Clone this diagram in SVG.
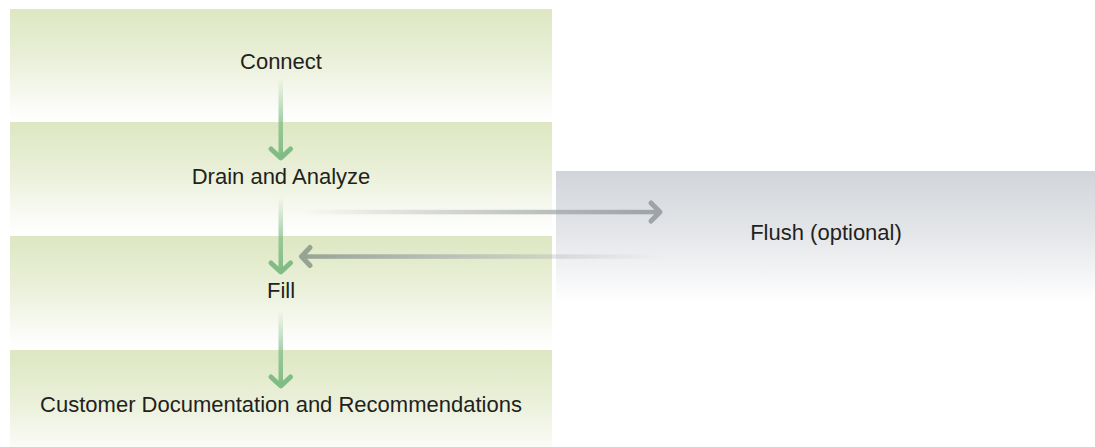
<svg xmlns="http://www.w3.org/2000/svg" width="1095" height="447" viewBox="0 0 1095 447">
  <defs>
    <linearGradient id="gGreen" x1="0" y1="0" x2="0" y2="1">
      <stop offset="0" stop-color="#dde7c2"/>
      <stop offset="0.45" stop-color="#eaf0d9"/>
      <stop offset="0.85" stop-color="#fafbf6"/>
      <stop offset="1" stop-color="#ffffff"/>
    </linearGradient>
    <linearGradient id="gGray" x1="0" y1="0" x2="0" y2="1">
      <stop offset="0" stop-color="#d1d5d9"/>
      <stop offset="0.5" stop-color="#e5e7ea"/>
      <stop offset="1" stop-color="#ffffff"/>
    </linearGradient>
    <linearGradient id="gDown" x1="0" y1="0" x2="0" y2="1">
      <stop offset="0" stop-color="#82bd86" stop-opacity="0"/>
      <stop offset="0.55" stop-color="#82bd86" stop-opacity="0.75"/>
      <stop offset="1" stop-color="#80bc84" stop-opacity="1"/>
    </linearGradient>
    <linearGradient id="gRight" gradientUnits="userSpaceOnUse" x1="300" y1="0" x2="660" y2="0">
      <stop offset="0" stop-color="#9ea3a8" stop-opacity="0"/>
      <stop offset="0.6" stop-color="#9ea3a8" stop-opacity="0.6"/>
      <stop offset="1" stop-color="#9ea3a8" stop-opacity="1"/>
    </linearGradient>
    <linearGradient id="gLeft" gradientUnits="userSpaceOnUse" x1="660" y1="0" x2="300" y2="0">
      <stop offset="0" stop-color="#9ea3a8" stop-opacity="0"/>
      <stop offset="0.6" stop-color="#9ea3a8" stop-opacity="0.6"/>
      <stop offset="1" stop-color="#97a393" stop-opacity="1"/>
    </linearGradient>
  </defs>
  <style>
    .band { fill: url(#gGreen); }
    .lbl { font-family: "Liberation Sans", Arial, sans-serif; font-size: 22px; fill: #231f20; text-anchor: middle; }
    .vline { fill: url(#gDown); }
    .vhead { fill: none; stroke: #80bc84; stroke-width: 5; stroke-linecap: round; stroke-linejoin: round; }
    .ghead { fill: none; stroke-width: 5; stroke-linecap: round; stroke-linejoin: round; }
  </style>

  <g id="node-flush">
    <rect x="556" y="171" width="539" height="132" fill="url(#gGray)"/>
    <text class="lbl" x="826" y="240">Flush (optional)</text>
  </g>

  <g id="node-connect">
    <rect class="band" x="10" y="9" width="542" height="112"/>
    <text class="lbl" x="281" y="69">Connect</text>
  </g>
  <g id="node-drain">
    <rect class="band" x="10" y="122" width="542" height="113"/>
    <text class="lbl" x="281" y="184">Drain and Analyze</text>
  </g>
  <g id="node-fill">
    <rect class="band" x="10" y="236" width="542" height="113"/>
    <text class="lbl" x="281" y="298">Fill</text>
  </g>
  <g id="node-customer">
    <rect class="band" x="10" y="350" width="542" height="113"/>
    <text class="lbl" x="281" y="412">Customer Documentation and Recommendations</text>
  </g>

  <g id="connectors">
    <rect class="vline" x="278.5" y="78" width="4.5" height="80"/>
    <polyline class="vhead" points="271,149 280.8,158 290.5,149"/>
    <rect class="vline" x="278.5" y="197" width="4.5" height="75"/>
    <polyline class="vhead" points="271,263 280.8,272 290.5,263"/>
    <rect class="vline" x="278.5" y="311" width="4.5" height="75"/>
    <polyline class="vhead" points="271,377 280.8,386 290.5,377"/>
    <rect x="300" y="209.8" width="358" height="4.5" fill="url(#gRight)"/>
    <polyline class="ghead" stroke="#9ea3a8" points="651,203 660,212 651,221"/>
    <rect x="303" y="254.3" width="357" height="4.5" fill="url(#gLeft)"/>
    <polyline class="ghead" stroke="#97a393" points="310,247.5 301.5,256.5 310,265.5"/>
  </g>
</svg>
